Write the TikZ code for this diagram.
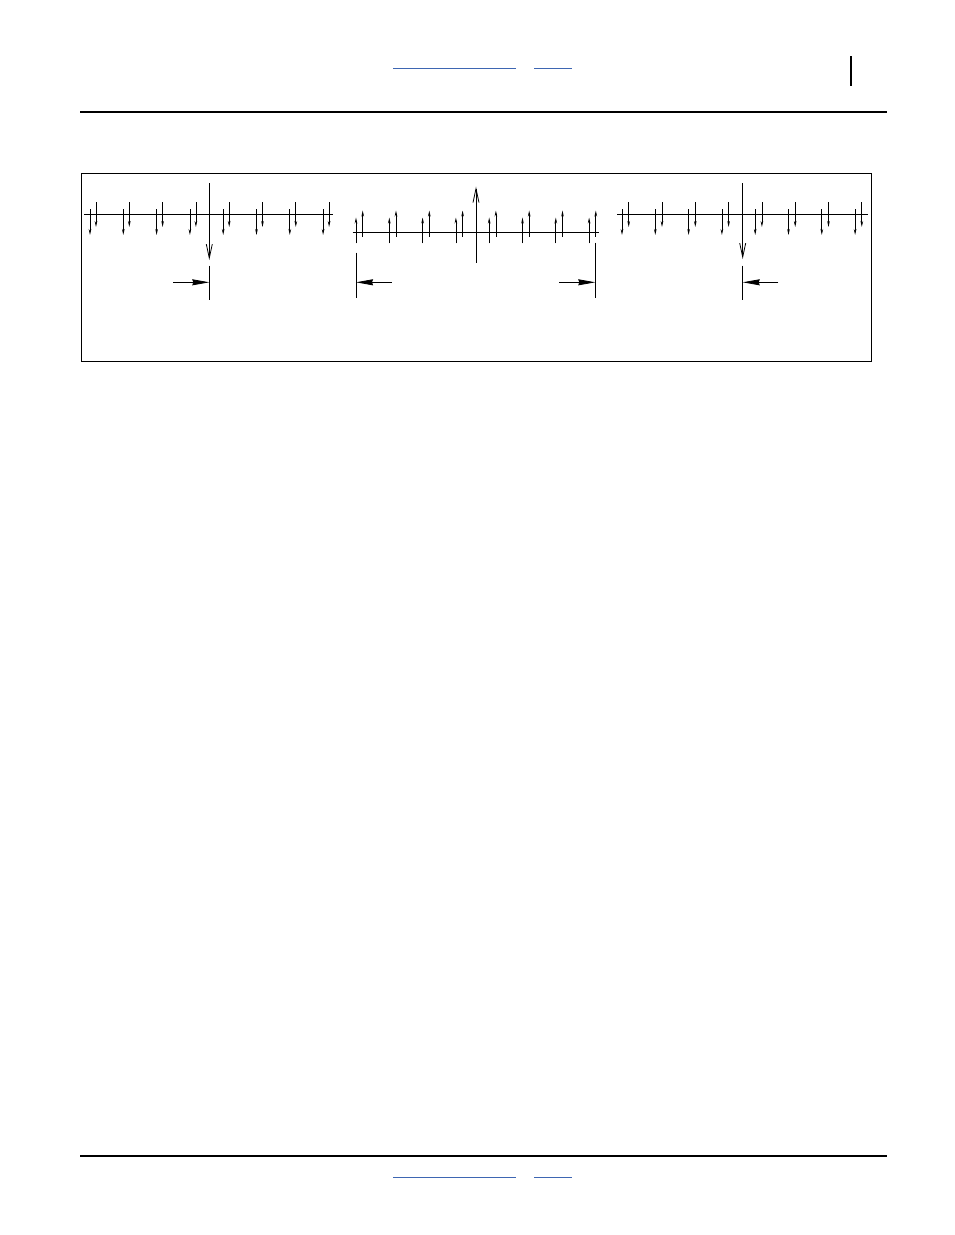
\documentclass[tikz,border=0pt]{standalone}
\usetikzlibrary{arrows.meta}
\definecolor{linkblue}{RGB}{62,102,178}
\begin{document}
\begin{tikzpicture}[x=1pt,y=-1pt,
  thin line/.style={line width=0.8pt,black},
  small arrow/.style={thin line,-{Stealth[length=6pt,width=2.6pt]}},
  big arrow/.style={thin line,-{Straight Barb[length=14pt,width=6pt]}},
  dim arrow/.style={thin line,-{Stealth[length=17pt,width=6pt,inset=1pt]}},
  rule/.style={line width=1.2pt,black},
  link/.style={line width=1pt,linkblue}]
\useasboundingbox[fill=white] (0,0) rectangle (954,1235);
% header / footer
\coordinate (h1a) at (393,68); \coordinate (h1b) at (516,68);
\coordinate (h2a) at (534,68); \coordinate (h2b) at (572,68);
\draw[link] (h1a) -- (h1b); \draw[link] (h2a) -- (h2b);
\coordinate (bara) at (851,56); \coordinate (barb) at (851,86);
\draw[line width=1.2pt] (bara) -- (barb);
\coordinate (ra) at (80,112); \coordinate (rb) at (887,112);
\draw[rule] (ra) -- (rb);
\coordinate (fa) at (80,1156); \coordinate (fb) at (887,1156);
\draw[rule] (fa) -- (fb);
\coordinate (f1a) at (393,1177); \coordinate (f1b) at (516,1177);
\coordinate (f2a) at (534,1177); \coordinate (f2b) at (572,1177);
\draw[link] (f1a) -- (f1b); \draw[link] (f2a) -- (f2b);
% frame
\coordinate (frA) at (81,173); \coordinate (frB) at (871,361);
\draw[thin line] (frA) rectangle (frB);
% ---------- panel 1 ----------
\coordinate (p1l) at (84,214); \coordinate (p1r) at (333,214);
\draw[thin line] (p1l) -- (p1r);
\coordinate (p1ct) at (209.3,183); \coordinate (p1cb) at (209.3,260);
\draw[big arrow] (p1ct) -- (p1cb);
\foreach \i in {0,...,7}{
  \coordinate (p1a\i) at ({90+33.3*\i},209); \coordinate (p1b\i) at ({90+33.3*\i},235);
  \draw[small arrow] (p1a\i) -- (p1b\i);
  \coordinate (p1c\i) at ({96+33.3*\i},202); \coordinate (p1d\i) at ({96+33.3*\i},227);
  \draw[small arrow] (p1c\i) -- (p1d\i);
}
\coordinate (p1dt) at (209.3,265.5); \coordinate (p1db) at (209.3,300);
\draw[thin line] (p1dt) -- (p1db);
\coordinate (p1as) at (173,282.3); \coordinate (p1ae) at (209.3,282.3);
\draw[dim arrow] (p1as) -- (p1ae);
% ---------- panel 2 ----------
\coordinate (p2l) at (352.7,232.3); \coordinate (p2r) at (599,232.3);
\draw[thin line] (p2l) -- (p2r);
\coordinate (p2cb) at (476,262.7); \coordinate (p2ct) at (476,186.7);
\draw[big arrow] (p2cb) -- (p2ct);
\foreach \i in {0,...,7}{
  \coordinate (p2a\i) at ({356+33.3*\i},243.3); \coordinate (p2b\i) at ({356+33.3*\i},217.5);
  \draw[small arrow] (p2a\i) -- (p2b\i);
  \coordinate (p2c\i) at ({362.7+33.3*\i},236.7); \coordinate (p2d\i) at ({362.7+33.3*\i},210.5);
  \draw[small arrow] (p2c\i) -- (p2d\i);
}
\coordinate (p2lt) at (356,252.7); \coordinate (p2lb) at (356,298.3);
\draw[thin line] (p2lt) -- (p2lb);
\coordinate (p2las) at (391.7,282.3); \coordinate (p2lae) at (356,282.3);
\draw[dim arrow] (p2las) -- (p2lae);
\coordinate (p2rt) at (595.3,242.7); \coordinate (p2rb) at (595.3,298.3);
\draw[thin line] (p2rt) -- (p2rb);
\coordinate (p2ras) at (559,282.3); \coordinate (p2rae) at (595.3,282.3);
\draw[dim arrow] (p2ras) -- (p2rae);
% ---------- panel 3 ----------
\coordinate (p3l) at (617,214); \coordinate (p3r) at (867.7,214);
\draw[thin line] (p3l) -- (p3r);
\coordinate (p3ct) at (742.7,183); \coordinate (p3cb) at (742.7,259);
\draw[big arrow] (p3ct) -- (p3cb);
\foreach \i in {0,...,7}{
  \coordinate (p3a\i) at ({622+33.3*\i},209); \coordinate (p3b\i) at ({622+33.3*\i},235);
  \draw[small arrow] (p3a\i) -- (p3b\i);
  \coordinate (p3c\i) at ({628.7+33.3*\i},202); \coordinate (p3d\i) at ({628.7+33.3*\i},227);
  \draw[small arrow] (p3c\i) -- (p3d\i);
}
\coordinate (p3dt) at (742.7,265.7); \coordinate (p3db) at (742.7,300);
\draw[thin line] (p3dt) -- (p3db);
\coordinate (p3as) at (778.3,282.3); \coordinate (p3ae) at (742.7,282.3);
\draw[dim arrow] (p3as) -- (p3ae);
\end{tikzpicture}
\end{document}
